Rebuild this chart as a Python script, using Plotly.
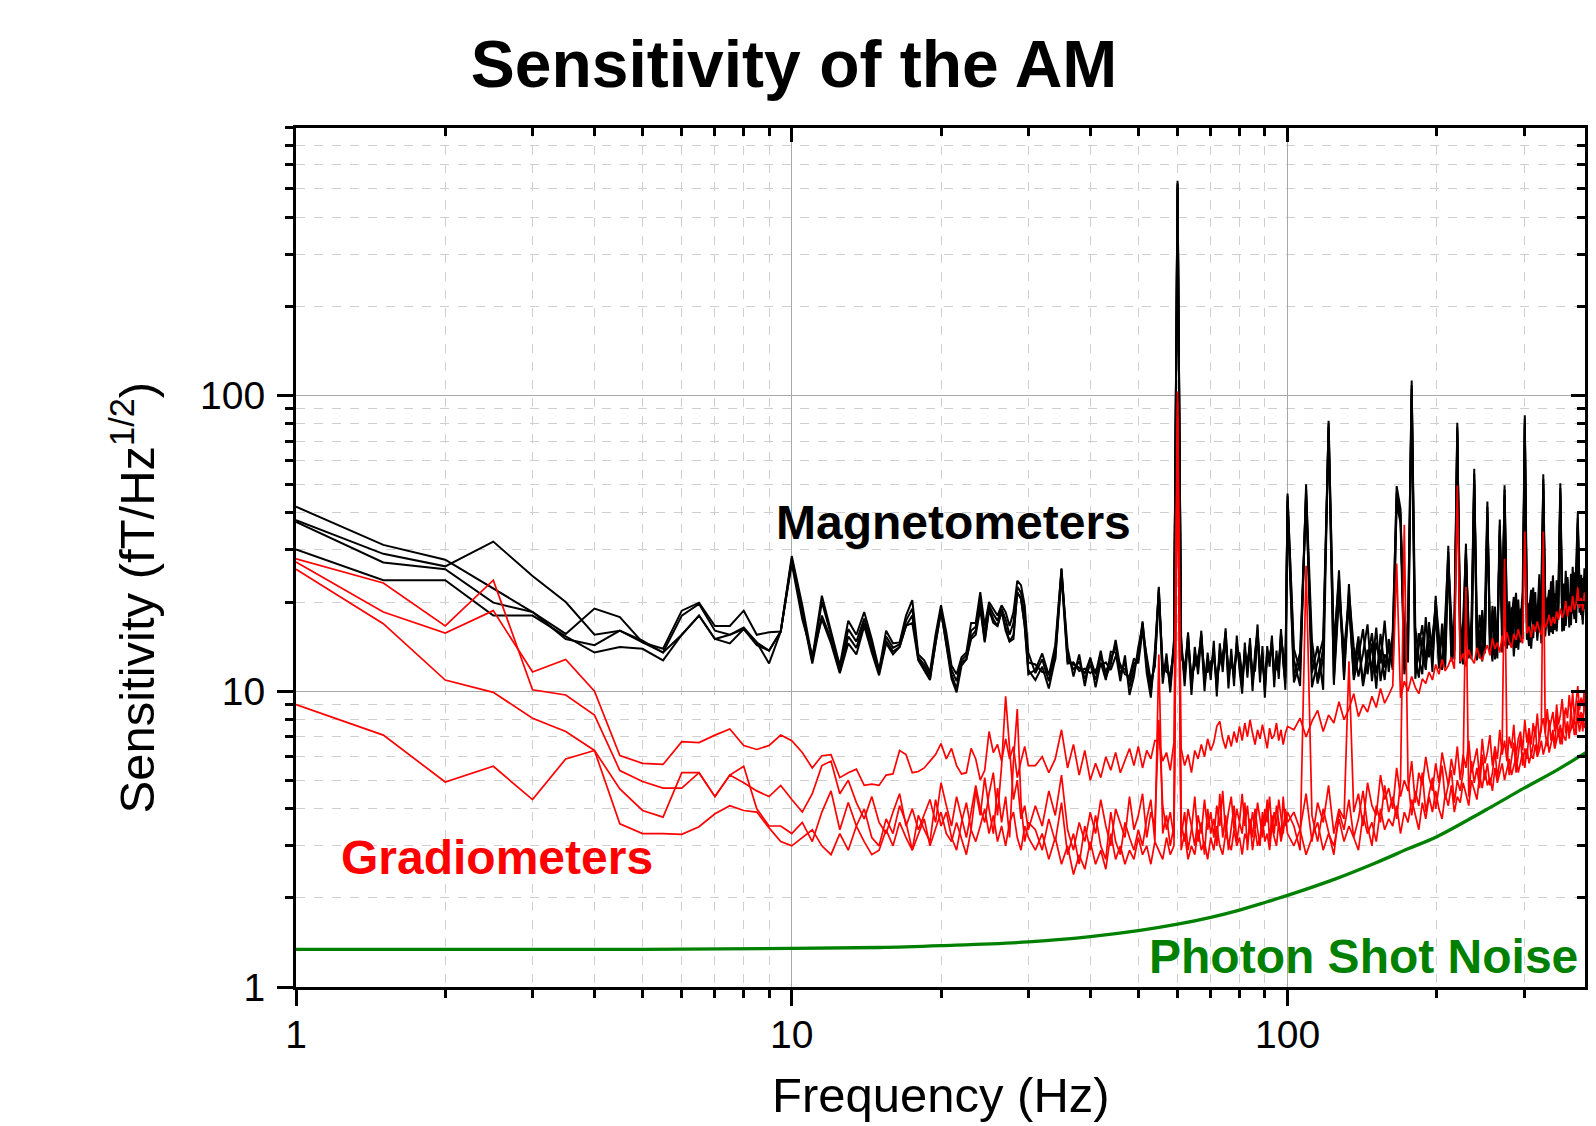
import plotly.graph_objects as go

# ---------------- data ----------------
FREQ_LOW = [1.0, 1.5, 2.0, 2.5, 3.0, 3.5, 4.0, 4.5, 5.0, 5.5,
            6.0, 6.5, 7.0, 7.5, 8.0, 8.5, 9.0, 9.5, 10.0, 10.5,
            11.0, 11.5, 12.0, 12.5, 13.0, 13.5, 14.0, 14.5, 15.0, 15.5,
            16.0, 16.5, 17.0, 17.5, 18.0, 18.5, 19.0, 19.5, 20.0, 20.5,
            21.0, 21.5, 22.0, 22.5, 23.0, 23.5, 24.0, 24.5, 25.0, 25.5,
            26.0, 26.5, 27.0, 27.5, 28.0, 28.5, 29.0, 29.5, 30.0]
FREQ_MID = [31, 32, 33, 34, 35, 36, 37, 38, 39, 40,
            41, 42, 43, 44, 45, 46, 47, 48, 49, 50,
            51, 52, 53, 54, 55, 56, 57, 58, 59, 60,
            61, 62, 63, 64, 65, 66, 67, 68, 69, 70,
            71, 72, 73, 74, 75, 76, 77, 78, 79, 80,
            81, 82, 83, 84, 85, 86, 87, 88, 89, 90,
            91, 92, 93, 94, 95, 96, 97, 98, 99, 100]
FREQ_HIGH = [103, 106, 109, 112, 115, 118, 121, 124, 127, 130,
             133, 136, 139, 142, 145, 148, 151, 154, 157, 160,
             163, 166, 169, 172, 175, 178, 181, 184, 187, 190,
             193, 196, 199, 202, 205, 208, 211, 214, 217, 220,
             223, 226, 229, 232, 235, 238, 241, 244, 247, 250,
             253, 256, 259, 262, 265, 268, 271, 274, 277, 280,
             283, 286, 289, 292, 295, 298, 301, 304, 307, 310,
             313, 316, 319, 322, 325, 328, 331, 334, 337, 340,
             343, 346, 349, 352, 355, 358, 361, 364, 367, 370,
             373, 376, 379, 382, 385, 388, 391, 394, 397, 400]
FREQ = FREQ_LOW + FREQ_MID + FREQ_HIGH

MAG_1 = [
    42.0, 31.2, 27.8, 22.2, 18.5, 15.6, 19.0, 17.8, 14.6, 13.9,
    18.7, 19.9, 16.6, 16.6, 18.7, 15.5, 15.8, 15.9, 28.6,
    19.5, 12.9, 21.0, 16.0, 12.2, 17.3, 15.5, 18.5, 15.0, 11.8,
    16.0, 14.5, 14.6, 18.0, 20.3, 13.3, 12.7, 11.6, 15.5, 19.5,
    15.8, 12.2, 11.4, 13.0, 13.5, 17.0, 17.0, 21.6, 16.6, 20.0,
    19.0, 18.0, 19.5, 18.5, 16.6, 18.5, 23.6, 22.8, 19.5, 13.5,
    11.5, 12.8, 10.8, 13.6, 26.0, 13.2, 11.8, 12.6, 11.0, 12.3,
    10.9, 13.1, 11.6, 12.9, 14.2, 11.4, 12.5, 10.3, 11.8, 13.4,
    17.2, 12.1, 10.0, 13.0, 22.5, 11.2, 12.7, 10.4, 14.8, 530.0,
    14.5, 11.0, 15.8, 10.2, 13.4, 12.0, 16.0, 10.6, 12.8, 11.5,
    14.0, 10.1, 13.7, 12.2, 16.3, 10.8, 13.2, 11.0, 14.6, 12.4,
    10.3, 13.9, 11.7, 15.1, 10.5, 12.9, 16.8, 11.3, 13.5, 10.0,
    14.2, 12.1, 15.4, 10.9, 13.0, 11.6, 16.2, 12.4, 10.6, 46.5,
    12.8, 10.4, 50.0, 11.5, 14.2, 10.1, 82.0, 13.1, 25.6, 11.3,
    23.0, 12.0, 15.3, 10.6, 13.8, 11.9, 16.4, 10.8, 13.3, 12.5,
    14.7, 49.3, 41.3, 12.2, 16.0, 112.0, 13.0, 11.1, 15.2, 12.7,
    17.1, 11.6, 21.0, 13.6, 12.1, 15.8, 31.0, 13.2, 16.6, 80.7,
    12.4, 14.9, 31.5, 12.9, 17.5, 56.4, 13.7, 16.1, 12.6, 18.3,
    43.7, 14.0, 17.8, 12.8, 15.5, 38.0, 13.5, 49.6, 16.9, 14.3,
    19.2, 13.1, 16.3, 20.4, 14.6, 17.0, 85.5, 15.0, 19.8, 13.9,
    17.4, 21.6, 14.8, 18.9, 16.0, 54.0, 15.3, 20.7, 17.2, 23.5,
    15.6, 19.5, 16.7, 22.1, 50.4, 15.9, 20.9, 17.6, 24.3, 16.4,
    21.8, 18.3, 25.2, 17.0, 40.0, 19.7, 23.0, 16.8, 26.0, 20.2]

MAG_2 = [
    37.8, 29.1, 26.4, 32.0, 24.5, 20.0, 15.5, 16.0, 14.6, 13.5,
    18.0, 19.7, 16.0, 15.5, 16.4, 14.6, 13.7, 15.9, 28.0,
    18.8, 12.6, 20.0, 15.5, 11.8, 16.2, 14.7, 17.6, 14.5, 11.6,
    15.3, 14.0, 14.4, 17.3, 19.0, 13.0, 12.3, 11.3, 15.0, 19.0,
    15.0, 11.8, 10.8, 12.7, 13.2, 16.0, 16.5, 20.5, 15.5, 19.5,
    18.2, 17.3, 19.0, 17.5, 15.5, 17.0, 22.5, 21.5, 18.0, 12.5,
    12.3, 11.6, 11.5, 12.8, 24.5, 12.4, 12.5, 11.7, 11.9, 11.5,
    11.8, 12.2, 12.5, 11.8, 13.1, 12.3, 11.4, 11.2, 12.9, 12.4,
    16.0, 13.0, 10.8, 12.1, 21.0, 12.3, 11.6, 11.4, 13.5, 500.0,
    13.2, 12.1, 14.4, 11.3, 12.2, 13.1, 14.6, 11.7, 11.6, 12.6,
    12.8, 11.2, 12.4, 13.3, 14.8, 11.9, 12.0, 12.1, 13.2, 13.5,
    11.4, 12.6, 12.8, 13.7, 11.6, 11.7, 15.2, 12.4, 12.2, 11.1,
    12.9, 13.2, 14.0, 12.0, 11.8, 12.7, 14.7, 13.5, 11.7, 44.0,
    11.2, 13.5, 46.0, 10.3, 12.6, 15.0, 78.0, 11.0, 22.0, 13.7,
    20.5, 10.9, 13.1, 16.2, 11.4, 14.5, 10.2, 15.6, 12.0, 14.1,
    11.8, 45.0, 38.0, 15.1, 12.5, 105.0, 16.5, 12.9, 11.4, 17.8,
    13.0, 15.4, 19.0, 11.9, 16.9, 13.3, 28.0, 17.7, 12.8, 76.0,
    15.7, 12.3, 29.0, 16.4, 13.1, 52.0, 17.3, 12.9, 18.8, 14.5,
    40.0, 16.6, 13.4, 19.3, 14.1, 35.0, 18.0, 46.0, 14.4, 20.1,
    15.2, 17.9, 21.5, 14.7, 19.0, 16.2, 80.0, 20.3, 15.5, 18.4,
    22.4, 16.5, 19.6, 15.8, 23.0, 50.0, 18.2, 16.9, 21.4, 17.5,
    24.6, 18.0, 16.3, 22.8, 47.0, 19.4, 17.1, 25.5, 18.6, 21.2,
    17.9, 26.3, 19.1, 22.5, 37.0, 18.4, 24.7, 20.6, 19.0, 23.6]

MAG_3 = [
    37.3, 27.2, 25.8, 19.9, 18.5, 15.0, 14.3, 16.0, 14.8, 13.5,
    15.5, 18.0, 15.0, 15.5, 16.2, 14.6, 12.4, 15.9, 27.5,
    18.2, 12.4, 18.0, 15.0, 11.6, 15.3, 14.0, 17.0, 14.0, 11.5,
    14.8, 13.6, 14.1, 16.6, 18.0, 12.8, 12.0, 11.0, 14.5, 18.6,
    14.5, 11.4, 10.2, 12.5, 12.8, 15.3, 16.0, 19.5, 14.8, 19.0,
    17.5, 16.6, 18.6, 16.5, 14.7, 15.5, 21.6, 20.5, 16.6, 11.8,
    10.9, 12.1, 10.2, 12.9, 25.2, 14.0, 11.2, 13.3, 10.4, 13.0,
    10.3, 12.5, 10.9, 13.6, 13.5, 10.8, 13.2, 9.7, 11.2, 14.1,
    16.5, 11.5, 9.5, 13.7, 21.8, 10.6, 13.4, 9.9, 14.0, 515.0,
    15.3, 10.4, 15.0, 9.7, 14.1, 11.4, 15.2, 10.0, 13.5, 10.9,
    14.8, 9.6, 14.5, 11.6, 15.5, 10.2, 13.9, 10.4, 15.4, 11.8,
    9.8, 14.6, 11.1, 14.3, 10.0, 13.6, 15.9, 10.7, 14.2, 9.5,
    13.5, 12.7, 14.6, 10.3, 13.7, 11.0, 15.4, 13.0, 10.1, 45.5,
    13.9, 11.7, 48.0, 14.8, 10.6, 12.9, 80.0, 14.3, 24.0, 10.9,
    21.5, 14.1, 11.2, 13.4, 16.8, 10.8, 14.6, 12.4, 17.3, 11.6,
    15.9, 47.0, 39.5, 13.8, 17.4, 108.0, 12.3, 15.7, 13.6, 11.8,
    16.4, 14.0, 20.3, 15.2, 11.8, 17.9, 29.5, 12.6, 14.9, 78.0,
    13.8, 17.2, 30.0, 14.2, 16.0, 54.0, 12.7, 18.1, 15.1, 13.4,
    42.0, 13.6, 19.4, 15.6, 12.9, 36.5, 16.3, 48.0, 18.7, 15.0,
    17.6, 20.8, 14.0, 18.2, 16.7, 21.7, 83.0, 14.9, 18.6, 22.0,
    15.1, 19.3, 17.6, 24.8, 14.5, 52.0, 21.0, 17.8, 15.4, 22.6,
    19.7, 16.1, 23.7, 18.5, 48.5, 22.2, 16.0, 19.0, 23.9, 17.3,
    24.9, 20.0, 17.5, 26.8, 38.5, 21.3, 18.1, 24.1, 21.9, 17.7]

MAG_4 = [
    30.1, 23.7, 23.7, 18.0, 18.0, 15.3, 13.5, 14.1, 13.9, 12.7,
    15.5, 18.0, 15.0, 14.5, 16.2, 14.3, 13.7, 15.9, 27.0,
    17.5, 13.2, 17.5, 14.5, 11.5, 14.5, 13.3, 16.6, 13.5, 11.3,
    14.5, 13.3, 14.1, 16.6, 17.0, 12.7, 11.7, 10.9, 14.5, 18.6,
    14.3, 11.0, 9.9, 12.2, 12.8, 15.0, 15.5, 19.0, 14.6, 18.8,
    17.0, 16.6, 18.6, 16.0, 14.7, 15.0, 21.6, 20.5, 16.6, 11.4,
    11.8, 13.4, 11.3, 14.3, 25.8, 12.6, 12.3, 12.0, 11.5, 12.9,
    11.4, 13.7, 11.1, 12.3, 14.9, 12.0, 11.9, 10.8, 12.4, 12.8,
    17.0, 12.7, 10.5, 12.4, 22.2, 11.8, 12.1, 10.9, 14.2, 520.0,
    13.9, 11.5, 15.5, 10.7, 12.8, 12.5, 15.6, 11.1, 12.2, 12.0,
    13.4, 10.6, 13.1, 12.8, 15.9, 11.3, 12.6, 11.5, 14.0, 12.9,
    10.8, 13.3, 12.2, 14.5, 11.0, 12.3, 16.1, 11.8, 12.9, 10.5,
    13.7, 12.6, 14.8, 11.4, 12.5, 12.1, 15.7, 12.9, 11.1, 42.5,
    10.7, 12.5, 44.0, 13.0, 11.1, 13.9, 75.0, 10.5, 21.0, 12.6,
    19.5, 11.3, 14.4, 10.4, 12.9, 15.7, 11.5, 13.8, 10.9, 15.0,
    12.8, 43.0, 37.0, 11.4, 14.3, 100.0, 11.0, 14.2, 16.7, 12.4,
    14.9, 12.8, 18.0, 13.1, 15.3, 12.0, 27.0, 15.6, 13.7, 74.0,
    16.8, 13.0, 28.5, 15.3, 12.8, 50.0, 15.2, 13.5, 17.0, 14.2,
    38.5, 15.4, 12.6, 17.1, 14.8, 34.0, 15.9, 45.0, 13.9, 17.7,
    14.1, 16.5, 19.4, 13.8, 17.5, 15.0, 78.0, 16.9, 14.2, 20.6,
    16.3, 18.7, 15.2, 21.2, 17.0, 48.0, 16.0, 19.5, 22.0, 15.8,
    18.2, 21.4, 15.9, 20.0, 45.5, 17.8, 23.1, 16.6, 20.4, 18.9,
    16.7, 22.7, 19.6, 17.3, 36.0, 23.8, 19.8, 17.4, 24.4, 21.0]

GRAD_1 = [
    28.0, 23.2, 16.6, 23.7, 10.1, 9.7, 8.3, 5.39, 4.95, 4.7,
    4.7, 5.3, 4.4, 5.2, 5.57, 4.0, 3.5, 3.5, 3.3,
    3.6, 3.1, 3.9, 4.6, 3.4, 4.2, 3.5, 4.0, 3.2, 3.0,
    3.7, 3.3, 4.1, 3.6, 2.9, 3.8, 3.4, 3.1, 4.3, 3.5,
    3.9, 3.2, 2.9, 3.6, 4.2, 3.4, 4.6, 3.8, 5.1, 4.0,
    3.3, 4.7, 3.6, 4.4, 3.2, 5.8, 8.7, 4.2, 3.1, 3.6,
    3.4, 2.9, 3.7, 3.1, 4.2, 2.8, 3.3, 2.6, 3.5, 2.9,
    3.8, 3.0, 2.7, 3.9, 3.1, 2.8, 3.6, 3.2, 2.9, 3.4,
    3.0, 3.7, 4.3, 3.1, 13.3, 3.3, 3.8, 3.0, 3.5, 85.0,
    3.2, 3.9, 2.9, 3.4, 4.4, 3.1, 3.6, 2.8, 4.0, 3.3,
    3.7, 3.0, 4.5, 3.2, 3.8, 2.9, 3.5, 4.1, 3.1, 3.6,
    3.3, 4.2, 2.9, 3.7, 3.2, 4.0, 3.4, 3.0, 3.9, 3.5,
    4.3, 3.1, 3.8, 3.3, 4.1, 3.6, 3.2, 4.4, 3.5, 3.9,
    3.5, 2.9, 26.5, 3.8, 3.1, 4.0, 3.3, 2.8, 3.9, 3.4,
    4.3, 3.2, 3.7, 4.6, 3.5, 3.0, 4.1, 3.6, 4.8, 3.9,
    4.4, 3.7, 4.9, 36.5, 5.0, 3.8, 4.6, 4.1, 5.3, 3.9,
    4.5, 5.1, 4.0, 4.8, 5.6, 4.3, 4.9, 5.4, 4.2, 5.0,
    4.6, 5.3, 22.5, 4.4, 5.8, 4.9, 5.5, 4.7, 6.1, 5.0,
    5.7, 4.8, 5.3, 6.3, 5.1, 5.9, 6.6, 28.0, 6.5, 5.2,
    5.8, 6.7, 5.3, 6.2, 7.0, 5.6, 6.4, 5.9, 7.3, 6.0,
    6.6, 7.6, 6.1, 6.9, 7.4, 34.6, 7.2, 6.5, 8.0, 6.8,
    7.4, 6.4, 8.3, 7.0, 7.7, 6.6, 8.6, 7.2, 7.9, 6.9,
    8.8, 7.5, 8.2, 7.1, 9.3, 7.8, 8.5, 7.3, 9.6, 8.1]

GRAD_2 = [
    27.3, 18.5, 15.7, 18.7, 11.6, 12.8, 10.0, 6.05, 5.7, 5.65,
    6.75, 6.7, 7.1, 7.45, 6.55, 6.35, 6.55, 7.1, 6.8,
    6.2, 5.5, 6.05, 6.1, 5.1, 5.3, 5.45, 4.8, 4.85, 4.8,
    5.2, 5.25, 6.3, 6.1, 5.3, 5.35, 5.5, 5.8, 6.1, 6.65,
    5.9, 6.4, 5.6, 5.25, 5.3, 6.4, 5.9, 5.0, 5.4, 7.3,
    6.2, 6.6, 5.8, 6.9, 5.9, 6.5, 5.1, 5.8, 6.5, 5.6,
    5.6, 6.0, 5.3, 5.9, 7.4, 5.5, 6.6, 5.2, 6.3, 5.0,
    5.7, 5.1, 6.0, 5.4, 6.2, 5.3, 5.8, 6.4, 5.6, 6.5,
    5.5, 6.3, 5.9, 6.8, 6.8, 5.8, 6.2, 5.4, 6.7, 103.0,
    6.4, 5.6, 6.1, 5.3, 6.3, 5.9, 6.6, 6.0, 6.9, 6.3,
    6.7, 7.6, 7.9, 6.9, 6.4, 7.1, 6.5, 7.3, 6.7, 7.6,
    6.8, 7.8, 7.0, 8.0, 7.2, 6.6, 7.4, 6.9, 7.7, 7.0,
    6.4, 7.5, 6.9, 7.1, 7.8, 6.8, 7.4, 6.6, 7.2, 7.6,
    7.4, 8.1, 7.0, 7.9, 8.6, 7.3, 8.3, 7.8, 9.2, 8.0,
    8.7, 9.8, 8.2, 9.0, 8.5, 9.6, 8.8, 10.2, 9.1, 9.7,
    10.4, 27.0, 9.5, 10.8, 10.0, 11.2, 10.3, 9.8, 11.0, 10.6,
    11.6, 10.9, 12.3, 11.4, 12.8, 11.7, 12.2, 13.0, 11.9, 49.5,
    12.6, 13.4, 12.1, 13.8, 12.9, 12.4, 14.0, 13.1, 12.7, 13.6,
    14.3, 13.2, 15.1, 13.9, 14.6, 13.5, 15.4, 14.2, 15.8, 14.7,
    14.0, 15.6, 14.9, 16.2, 15.1, 14.5, 34.6, 15.7, 16.5, 15.2,
    16.8, 15.9, 17.2, 16.1, 15.5, 17.6, 16.4, 17.0, 18.1, 16.6,
    17.8, 16.9, 18.6, 17.4, 19.0, 17.7, 18.3, 20.2, 17.9, 19.4,
    18.5, 21.0, 18.8, 19.8, 22.4, 19.1, 20.6, 18.7, 21.5, 19.6]

GRAD_3 = [
    25.8, 16.9, 10.9, 9.9, 8.1, 7.3, 6.3, 4.67, 3.95, 3.75,
    5.3, 5.3, 4.4, 5.2, 4.9, 4.6, 4.4, 4.8, 4.3,
    3.9, 4.5, 5.6, 5.8, 4.5, 5.0, 4.2, 3.7, 4.4, 3.6,
    3.3, 3.9, 4.5, 3.5, 4.0, 3.4, 3.8, 4.3, 3.6, 4.9,
    4.1, 3.5, 4.4, 3.7, 3.2, 3.9, 4.8, 4.0, 3.6, 4.5,
    5.3, 3.8, 5.6, 9.6, 6.6, 4.3, 5.0, 3.7, 4.1, 3.4,
    4.1, 3.5, 4.6, 3.8, 5.2, 3.4, 2.9, 3.6, 3.1, 3.9,
    3.3, 4.3, 3.5, 3.0, 4.0, 3.6, 3.2, 4.4, 3.4, 3.8,
    4.5, 3.2, 3.9, 3.5, 8.0, 4.1, 3.4, 3.9, 3.2, 95.0,
    3.6, 3.1, 4.0, 3.5, 3.0, 3.8, 3.3, 4.3, 3.4, 3.9,
    3.2, 4.1, 3.5, 4.6, 3.3, 3.9, 4.4, 3.4, 4.0, 3.6,
    4.5, 3.5, 4.1, 3.3, 3.9, 3.4, 4.2, 3.7, 3.2, 4.0,
    3.6, 4.4, 3.4, 3.9, 3.5, 4.3, 3.8, 3.3, 4.0, 3.6,
    3.9, 3.4, 4.5, 3.1, 4.2, 3.6, 4.8, 3.3, 4.0, 3.7,
    12.6, 3.9, 4.5, 3.5, 4.9, 4.1, 3.8, 5.2, 4.3, 4.7,
    4.0, 5.5, 4.4, 5.0, 4.6, 5.8, 4.2, 5.3, 4.8, 6.0,
    5.1, 4.6, 5.7, 4.9, 6.2, 5.4, 4.8, 5.9, 5.2, 6.5,
    5.0, 6.1, 5.5, 6.8, 5.3, 5.8, 6.4, 5.1, 6.9, 5.7,
    6.2, 7.1, 5.6, 6.5, 5.9, 7.4, 6.1, 6.8, 5.8, 7.0,
    6.4, 7.7, 6.0, 6.9, 7.3, 6.3, 8.0, 6.7, 7.5, 6.6,
    7.8, 7.0, 8.4, 6.8, 7.6, 8.1, 7.2, 8.7, 7.4, 7.9,
    8.5, 7.3, 9.0, 7.7, 8.3, 9.4, 7.9, 8.8, 8.1, 9.7,
    8.4, 9.9, 8.0, 9.2, 10.4, 8.6, 9.5, 8.9, 10.1, 9.3]

GRAD_4 = [
    9.0, 7.1, 4.93, 5.57, 4.3, 5.9, 6.3, 3.56, 3.3, 3.3,
    3.28, 3.48, 3.85, 4.1, 3.95, 3.9, 3.45, 3.1, 3.0,
    3.2, 3.4, 3.0, 2.8, 3.3, 2.9, 3.5, 3.1, 2.8, 2.9,
    3.4, 3.0, 3.6, 3.2, 2.9, 3.3, 3.7, 3.0, 3.4, 3.9,
    3.3, 3.1, 3.6, 3.2, 2.8, 3.4, 3.1, 3.5, 4.0, 3.3,
    3.8, 3.1, 3.5, 3.0, 3.6, 3.9, 3.2, 2.9, 3.5, 3.2,
    2.9, 3.3, 2.7, 3.2, 2.6, 3.0, 2.4, 2.8, 2.5, 3.1,
    2.6, 2.9, 2.5, 3.3, 2.7, 3.0, 2.6, 2.9, 2.7, 3.2,
    2.8, 3.0, 2.6, 3.1, 2.9, 2.7, 3.2, 2.8, 3.0, 70.0,
    2.9, 3.3, 2.7, 3.0, 2.8, 3.4, 2.9, 3.1, 2.7, 3.2,
    2.9, 3.5, 3.0, 2.8, 3.3, 3.1, 2.9, 3.4, 3.0, 3.2,
    2.8, 3.3, 3.1, 3.6, 2.9, 3.4, 3.0, 3.2, 3.7, 3.1,
    3.3, 2.9, 3.5, 3.2, 3.0, 3.6, 3.1, 3.4, 3.8, 3.3,
    3.0, 3.4, 2.8, 3.2, 3.6, 2.9, 3.3, 3.0, 3.7, 3.1,
    3.5, 3.2, 2.9, 3.8, 3.3, 3.6, 3.1, 4.0, 3.4, 3.7,
    3.5, 4.1, 3.3, 3.9, 3.6, 4.3, 3.8, 3.4, 4.2, 3.7,
    4.4, 3.9, 4.6, 4.0, 3.7, 4.5, 4.1, 4.8, 3.9, 4.4,
    4.2, 4.9, 4.5, 4.1, 5.0, 4.6, 4.3, 5.2, 4.7, 5.4,
    4.8, 5.1, 4.6, 5.5, 4.9, 5.3, 5.7, 5.0, 5.4, 5.9,
    5.2, 5.6, 6.0, 5.3, 5.8, 6.2, 5.5, 6.4, 5.7, 6.1,
    5.9, 6.6, 6.0, 6.3, 6.8, 6.1, 6.5, 7.0, 6.2, 6.7,
    7.1, 6.4, 6.9, 7.3, 6.6, 7.5, 7.0, 6.8, 7.7, 7.2,
    7.4, 7.9, 7.1, 7.6, 8.2, 7.3, 7.8, 8.4, 7.5, 8.0]

SHOT_FREQ = [1, 5, 10, 15, 20, 30, 40, 50, 60, 70, 80, 90, 100,
             125, 150, 175, 200, 250, 300, 350, 400]
SHOT_NOISE = [1.34, 1.34, 1.35, 1.36, 1.38, 1.42, 1.48, 1.55, 1.63, 1.72,
              1.82, 1.93, 2.04, 2.32, 2.62, 2.93, 3.22, 3.95, 4.7, 5.42, 6.2]

MAGNETOMETERS = [MAG_1, MAG_2, MAG_3, MAG_4]
GRADIOMETERS = [GRAD_1, GRAD_2, GRAD_3, GRAD_4]
for s in MAGNETOMETERS + GRADIOMETERS:
    assert len(s) == len(FREQ), (len(s), len(FREQ))

# ---------------- figure ----------------
# the page body adds an 8 px margin, so the figure is 8 px smaller than the window
FIG_W, FIG_H = 1588, 1118
FONT = "Liberation Sans, Arial, Helvetica, sans-serif"
X_RANGE = [0, 2.6]
Y_RANGE = [0, 2.903]

fig = go.Figure()
for s in MAGNETOMETERS:
    fig.add_trace(go.Scatter(x=FREQ, y=s, mode="lines",
                             line=dict(color="#000000", width=2),
                             showlegend=False, hoverinfo="skip"))
for s in GRADIOMETERS:
    fig.add_trace(go.Scatter(x=FREQ, y=s, mode="lines",
                             line=dict(color="#ff0000", width=1.7),
                             showlegend=False, hoverinfo="skip"))
fig.add_trace(go.Scatter(x=SHOT_FREQ, y=SHOT_NOISE, mode="lines",
                         line=dict(color="#008000", width=3.3, shape="spline"),
                         showlegend=False, hoverinfo="skip"))
# empty trace to host the mirrored (inward-tick) axes
fig.add_trace(go.Scatter(x=[], y=[], xaxis="x2", yaxis="y2",
                         showlegend=False, hoverinfo="skip"))

axis_common = dict(
    type="log", showline=True, linewidth=3, linecolor="#000000",
    ticks="outside", ticklen=16, tickwidth=2.5, tickcolor="#000000",
    dtick=1, showgrid=True, gridcolor="#a8a8a8", gridwidth=1.2,
    zeroline=False, automargin=False,
    tickfont=dict(family=FONT, size=39, color="#000000"),
    minor=dict(dtick="D1", ticks="outside", ticklen=8, tickwidth=2.5,
               tickcolor="#000000", showgrid=True, gridcolor="#cfcfcf",
               griddash="dash", gridwidth=1),
)
mirror_common = dict(
    type="log", showline=False, ticks="inside", ticklen=14, tickwidth=2.5,
    tickcolor="#000000", dtick=1, showticklabels=False, showgrid=False,
    zeroline=False, automargin=False,
    minor=dict(dtick="D1", ticks="inside", ticklen=8, tickwidth=2.5,
               tickcolor="#000000", showgrid=False),
)

fig.update_layout(
    width=FIG_W, height=FIG_H,
    paper_bgcolor="white", plot_bgcolor="white",
    margin=dict(l=288, r=11, t=120, b=139, pad=0, autoexpand=False),
    title=dict(text="<b>Sensitivity of the AM</b>", x=786 / FIG_W, xanchor="center",
               y=1 - 55.5 / FIG_H, yanchor="middle", yref="container",
               font=dict(family=FONT, size=66, color="#000000")),
    xaxis=dict(range=X_RANGE, mirror=True, ticklabelstandoff=-5, **axis_common),
    yaxis=dict(range=Y_RANGE, mirror=True, ticklabelstandoff=4, **axis_common),
    xaxis2=dict(range=X_RANGE, overlaying="x", side="top", anchor="y", **mirror_common),
    yaxis2=dict(range=Y_RANGE, overlaying="y", side="right", anchor="x", **mirror_common),
    showlegend=False,
)

annotations = [
    dict(text="<b>Magnetometers</b>", x=0.3708, y=0.5405, xanchor="left",
         yanchor="middle", font=dict(family=FONT, size=48, color="#000000")),
    dict(text="<b>Gradiometers</b>", x=0.0334, y=0.1505, xanchor="left",
         yanchor="middle", font=dict(family=FONT, size=48, color="#ff0000")),
    dict(text="<b>Photon Shot Noise</b>", x=0.9961, y=0.035, xanchor="right",
         yanchor="middle", font=dict(family=FONT, size=48, color="#008000")),
    dict(text="Sensitivity (fT/Hz<sup>1/2</sup>)", x=-0.126, y=0.453,
         xanchor="center", yanchor="middle", textangle=-90,
         font=dict(family=FONT, size=49, color="#000000")),
    dict(text="Frequency (Hz)", x=0.5, y=-0.1263, xanchor="center",
         yanchor="middle", font=dict(family=FONT, size=49, color="#000000")),
]
for a in annotations:
    fig.add_annotation(xref="paper", yref="paper", showarrow=False, **a)

fig.write_html("out.html")
